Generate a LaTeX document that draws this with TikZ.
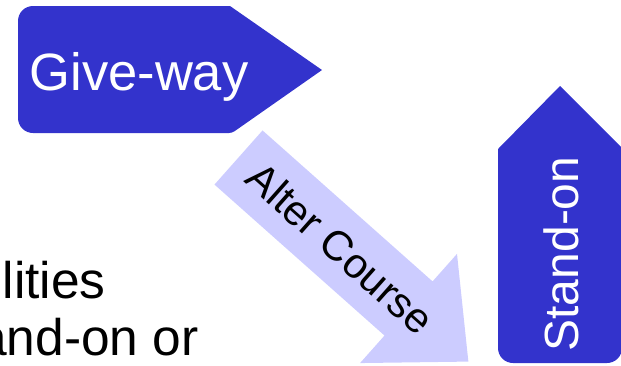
\documentclass[tikz,border=0pt]{standalone}
\usepackage{fontspec}
\setmainfont{Liberation Sans}
\definecolor{darkbl}{HTML}{3333CC}
\definecolor{lightbl}{HTML}{CCCCFF}
\tikzset{
  tag/.style={fill=darkbl},
  tagtext/.style={text=white, inner sep=0pt},
  bodytext/.style={text=black, inner sep=0pt, font=\fontsize{51.5}{57}\selectfont},
}
\begin{document}
\begin{tikzpicture}[x=1pt,y=-1pt]
\useasboundingbox (0,0) rectangle (621,365);
\clip (0,0) rectangle (621,365);
% Give-way tag
\fill[tag] (230,6) [rounded corners=15] -- (18,6) -- (18,133) [rounded corners=3] -- (232,133) [sharp corners] -- (322,70) -- cycle;
\node[tagtext, anchor=base, font=\fontsize{52.5}{60}\selectfont] (giveway) at (139,90) {Give-way};
% Stand-on tag
\fill[tag] (498,149) -- (560,86) -- (622,148) [rounded corners=15] -- (622,363) -- (498,363) [sharp corners] -- (498,149) -- cycle;
\node[tagtext, rotate=90, font=\fontsize{48}{56}\selectfont] (standon) at (561,254) {Stand-on};
% Alter course arrow
\begin{scope}[shift={(238.5,157.5)}, rotate=-41.6, transform shape]
\fill[lightbl] (0,-36.2) -- (227.4,-36.2) -- (227.4,-73) -- (307.4,0) -- (227.4,73) -- (227.4,36.2) -- (0,36.2) -- cycle;
\node[inner sep=0pt, anchor=base, font=\fontsize{42}{50}\selectfont] (alter) at (136.5,15) {Alter Course};
\end{scope}
% partial body text
\node[bodytext, anchor=base west] (line1) at (2.5,298) {lities};
\node[bodytext, anchor=base west] (line2) at (-22,355) {and-on or};
\end{tikzpicture}
\end{document}
